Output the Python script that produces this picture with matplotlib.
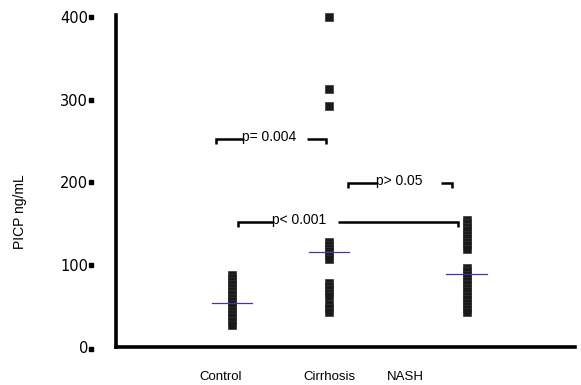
import matplotlib.pyplot as plt
import matplotlib.transforms as mtransforms

plt.rcParams["font.family"] = ["Liberation Sans", "DejaVu Sans"]

# group positions on the x axis (Control, Cirrhosis, NASH)
grupos = ["Control", "Cirrhosis", "NASH"]
posicoes = [1.0, 2.0, 3.42]
posicoes_rotulos = [0.88, 2.0, 2.79]

control = [88, 84, 80, 76, 72, 68, 64, 60, 56, 52, 48, 44, 40, 36, 32, 27]
cirrhosis = [400, 313, 293, 128, 124, 120, 116, 112, 107, 78, 74, 70, 66, 62, 52, 47, 42]
nash = [154, 150, 146, 142, 136, 132, 128, 124, 119, 96, 92, 88, 84, 80, 76, 72, 68, 62, 58, 54, 50, 46, 42]
medianas = [53, 115, 89]

yticks = [0, 100, 200, 300, 400]

# comparações: (x inicio, x fim, y, texto, x inicio texto, x retomada linha)
comparacoes = [
    (0.835, 1.97, 253, "p= 0.004", 1.11, 1.77),
    (1.06, 3.33, 152, "p< 0.001", 1.42, 2.09),
    (2.20, 3.27, 199, "p> 0.05", 2.49, 3.15),
]

fig = plt.figure(figsize=(5.81, 3.85), dpi=100)
ax = fig.add_axes([116 / 581, 1 - 347 / 385, 459 / 581, 332 / 385])

for x, valores in zip(posicoes, [control, cirrhosis, nash]):
    ax.plot([x] * len(valores), valores, linestyle="none", marker="s",
            markersize=5.3, color="#1a1a1a", markeredgewidth=0.5,
            markeredgecolor="#333333", clip_on=False)

for x, m in zip(posicoes, medianas):
    ax.plot([x - 0.21, x + 0.21], [m, m], color="#3a3aa8", linewidth=0.9)

for x0, x1, y, texto, xt0, xt1 in comparacoes:
    d = 6
    ax.plot([x0, x0, xt0], [y - d, y, y], color="black", linewidth=1.8,
            solid_capstyle="butt", solid_joinstyle="miter")
    ax.plot([xt1, x1, x1], [y, y, y - d], color="black", linewidth=1.8,
            solid_capstyle="butt", solid_joinstyle="miter")
    ax.text(xt0 - 0.005, y + 2, texto, ha="left", va="center", fontsize=10)

ax.set_xlim(-0.196, 4.536)
ax.set_ylim(0, 403)

for spine in ["top", "right"]:
    ax.spines[spine].set_visible(False)
ax.spines["left"].set_linewidth(2.6)
ax.spines["bottom"].set_linewidth(2.6)

ax.set_xticks([])
ax.set_yticks(yticks)
ax.set_yticklabels([str(v) for v in yticks], fontsize=10.5, family="DejaVu Sans")
ax.tick_params(axis="y", length=0, pad=20)

# marcadores quadrados ao lado dos rótulos do eixo y
trans = mtransforms.blended_transform_factory(ax.transAxes, ax.transData)
ax.plot([-0.054] * len(yticks), [v + (0 if v else -3) for v in yticks],
        linestyle="none", marker="s", markersize=3, color="black",
        transform=trans, clip_on=False)

trans_x = mtransforms.blended_transform_factory(ax.transData, ax.transAxes)
for x, nome in zip(posicoes_rotulos, grupos):
    ax.text(x, -0.09, nome, ha="center", va="center", fontsize=9.5,
            transform=trans_x)

fig.text(20 / 581, 1 - 212 / 385, "PICP ng/mL", rotation=90,
         ha="center", va="center", fontsize=10)

fig.savefig("out.png", dpi=100)
